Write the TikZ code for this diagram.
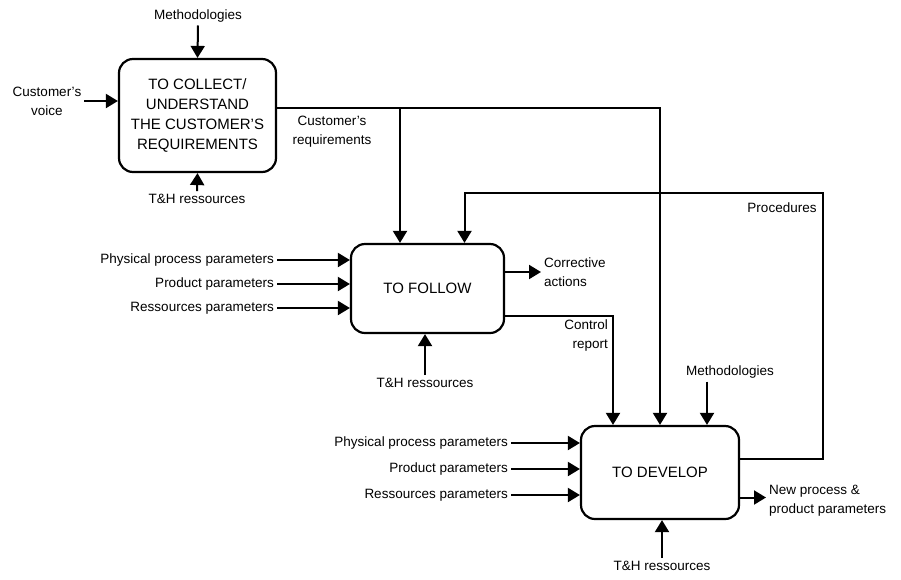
\documentclass[tikz,border=0pt]{standalone}
\usepackage{fontspec}
\setmainfont{Liberation Sans}
\usetikzlibrary{arrows.meta,positioning}

\tikzset{
  process/.style={draw, rounded corners=14pt, line width=2.2pt, align=center, font=\fontsize{15}{20}\selectfont},
  lbl/.style={align=center, font=\fontsize{13.5}{19}\selectfont, inner sep=3pt},
  flow/.style={line width=2pt, -{Triangle[width=14pt,length=12pt]}},
  wire/.style={line width=2pt}
}

\begin{document}
\begin{tikzpicture}[x=1pt,y=-1pt]
\useasboundingbox (0,0) rectangle (901,579);

% Processes
\node[process, minimum width=157pt, minimum height=113pt] (collect) at (197.5,115.5) {TO COLLECT/\\UNDERSTAND\\THE CUSTOMER'S\\REQUIREMENTS};
\node[process, minimum width=153pt, minimum height=89pt] (follow) at (427.5,288.5) {TO FOLLOW};
\node[process, minimum width=158pt, minimum height=93pt] (develop) at (660,472.5) {TO DEVELOP};

% Labels
\node[lbl] (meth1) at (198,16) {Methodologies};
\node[lbl] (voice) at (47,101) {Customer's\\voice};
\node[lbl] (th1) at (197,199) {T\&H ressources};
\node[lbl] (creq) at (332,132) {Customer's\\requirements};
\node[lbl] (proc) at (782,208) {Procedures};
\node[lbl, anchor=west, align=left] (corr) at (541,272) {Corrective\\actions};
\node[lbl, anchor=east, align=right] (ctrl) at (611,336) {Control\\report};
\node[lbl] (th2) at (425,383) {T\&H ressources};
\node[lbl] (meth2) at (730,372) {Methodologies};
\node[lbl, anchor=west, align=left] (newp) at (766,501) {New process \&\\product parameters};
\node[lbl] (th3) at (662,566) {T\&H ressources};

% Parameter inputs
\foreach \t [count=\i] in {Physical process parameters, Product parameters, Ressources parameters}
  \node[lbl, anchor=east] (pf\i) at (277,236+24*\i) {\t};
\foreach \t [count=\i] in {Physical process parameters, Product parameters, Ressources parameters}
  \node[lbl, anchor=east] (pd\i) at (511,417+26*\i) {\t};

\foreach \i in {1,2,3}
  \draw[flow] (pf\i.east) -- (pf\i.east -| follow.west);
\foreach \i in {1,2,3}
  \draw[flow] (pd\i.east) -- (pd\i.east -| develop.west);

% Junction points
\coordinate (reqout) at ([yshift=8]collect.east);
\coordinate (j1) at (400,107.5);
\coordinate (fp) at ([xshift=37]follow.north);
\coordinate (dt1) at ([xshift=-47]develop.north);
\coordinate (dt3) at ([xshift=47]develop.north);
\coordinate (pc) at (823,193);

% Connections
\draw[flow] (meth1.south) -- (collect.north);
\draw[flow] (voice.east) -- (voice.east -| collect.west);
\draw[flow] (th1.north) -- (collect.south);
\draw[flow] (reqout) -| (develop.north);
\draw[flow] (j1) -- (j1 |- follow.north);
\draw[flow] ([yshift=14]develop.east) -| (pc) -| (fp);
\draw[flow] (corr.west -| follow.east) -- (corr.west);
\draw[flow] ([yshift=-27]follow.east) -| (dt1);
\draw[flow] (th2.north) -- (th2.north |- follow.south);
\draw[flow] (dt3 |- meth2.south) -- (dt3);
\draw[flow] ([yshift=-25]develop.east) -- ([yshift=-25]develop.east -| newp.west);
\draw[flow] (th3.north) -- (develop.south -| th3.north);
\end{tikzpicture}
\end{document}
